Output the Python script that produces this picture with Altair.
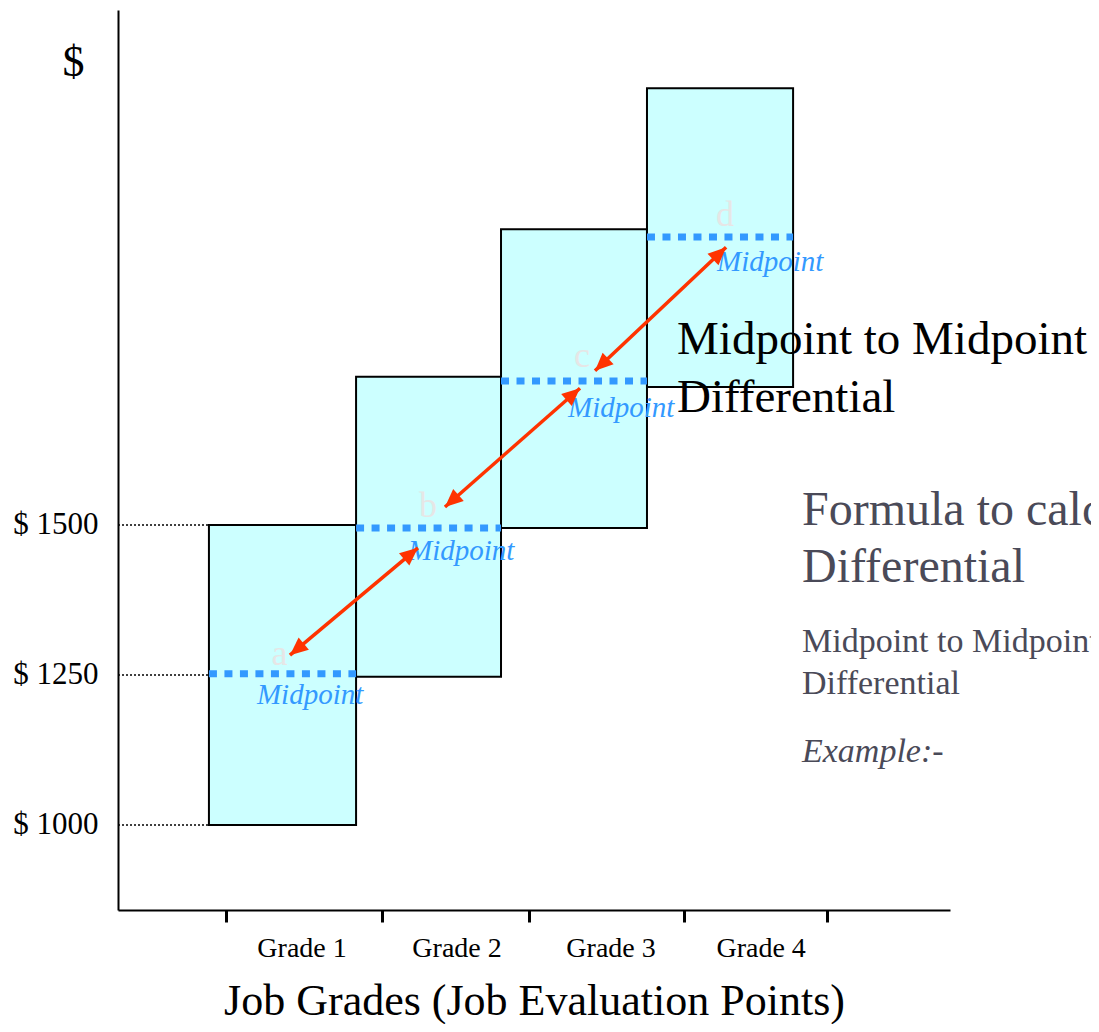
import math
import altair as alt
import pandas as pd

# ---------------- data ----------------
grades = ["Grade 1", "Grade 2", "Grade 3", "Grade 4"]
box_x0 = [0.623, 1.631, 2.624, 3.624]
box_x1 = [1.631, 2.624, 3.624, 4.625]
box_low = [1000, 1247, 1495, 1730]
box_high = [1500, 1747, 1993, 2228]
box_mid = [1252, 1495, 1740, 1980]

letters = ["a", "b", "c", "d"]
letter_x = [1.107, 2.124, 3.178, 4.158]
letter_y = [1266, 1513, 1763, 1998]

mid_label_x = [0.952, 1.987, 3.083, 4.104]
mid_label_y = [1202, 1442, 1680, 1923]

arrow_x_start = [1.178, 2.240, 3.268]
arrow_y_start = [1283, 1530, 1757]
arrow_x_end = [2.055, 3.165, 4.166]
arrow_y_end = [1462, 1728, 1963]

y_tick_values = [1000, 1250, 1500]
x_tick_values = [0.740, 1.809, 2.816, 3.878, 4.858]
grade_label_x = [1.261, 2.323, 3.378, 4.406]
grade_label_y = 780

black_lines = ["Midpoint to Midpoint", "Differential"]
black_x = 3.830
black_y = [1785, 1688]

gray_lines = ["Formula to calculate", "Differential", "Midpoint to Midpoint", "Differential", "Example:-"]
gray_size = [48, 48, 34, 34, 34]
gray_style = ["normal", "normal", "normal", "normal", "italic"]
gray_x = 4.686
gray_y = [1500, 1405, 1288, 1218, 1105]

# ---------------- scales / layout ----------------
X_DOMAIN = [0, 5.7]
Y_DOMAIN = [858.33, 2358.33]
W, H = 832, 900
SERIF = "Liberation Serif"

xs = alt.Scale(domain=X_DOMAIN, nice=False, zero=False)
ys = alt.Scale(domain=Y_DOMAIN, nice=False, zero=False)

x_axis = alt.Axis(
    values=x_tick_values, labels=False, grid=False,
    ticks=True, tickSize=12, tickWidth=3, tickColor="black",
    domainColor="black", domainWidth=2,
    title="Job Grades (Job Evaluation Points)", titleFont=SERIF, titleFontSize=44,
    titleFontWeight="normal", titleColor="black", titleY=104, titleBaseline="alphabetic",
)
y_axis = alt.Axis(
    values=y_tick_values, labelExpr="'$ ' + datum.value", ticks=False, grid=False,
    labelFont=SERIF, labelFontSize=31, labelColor="black", labelPadding=20,
    domainColor="black", domainWidth=2,
    title="$", titleAngle=0, titleX=-45, titleY=65, titleAlign="center",
    titleBaseline="alphabetic", titleFont=SERIF, titleFontSize=44,
    titleFontWeight="normal", titleColor="black",
)


def X(f):
    return alt.X(f"{f}:Q", scale=xs, axis=x_axis)


def Y(f):
    return alt.Y(f"{f}:Q", scale=ys, axis=y_axis)


boxes = pd.DataFrame({"grade": grades, "x": box_x0, "x1": box_x1,
                      "y": box_low, "y1": box_high, "mid": box_mid})

rects = alt.Chart(boxes).mark_rect(fill="#ccffff", stroke="black", strokeWidth=2).encode(
    x=X("x"), x2=alt.X2("x1"), y=Y("y"), y2=alt.Y2("y1"))

mid_lines = alt.Chart(boxes).mark_rule(color="#3399ff", strokeWidth=7, strokeDash=[8, 7.5]).encode(
    x=X("x"), x2=alt.X2("x1"), y=Y("mid"))

guides = pd.DataFrame({"x": [0] * 3, "x1": [box_x0[0]] * 3, "y": y_tick_values})
guide_lines = alt.Chart(guides).mark_rule(color="black", strokeWidth=1.5, strokeDash=[2, 2]).encode(
    x=X("x"), x2=alt.X2("x1"), y=Y("y"))

letters_df = pd.DataFrame({"t": letters, "x": letter_x, "y": letter_y})
letter_text = alt.Chart(letters_df).mark_text(
    font=SERIF, fontSize=36, color="#e6e6e6", align="center", baseline="alphabetic"
).encode(x=X("x"), y=Y("y"), text="t:N")

mid_df = pd.DataFrame({"t": ["Midpoint"] * 4, "x": mid_label_x, "y": mid_label_y})
mid_text = alt.Chart(mid_df).mark_text(
    font=SERIF, fontSize=29, fontStyle="italic", color="#3399ff", align="left", baseline="alphabetic"
).encode(x=X("x"), y=Y("y"), text="t:N")

arrows = pd.DataFrame({"x": arrow_x_start, "y": arrow_y_start, "x1": arrow_x_end, "y1": arrow_y_end})
arrow_lines = alt.Chart(arrows).mark_rule(color="#ff3300", strokeWidth=3.5).encode(
    x=X("x"), y=Y("y"), x2=alt.X2("x1"), y2=alt.Y2("y1"))

px_x = W / (X_DOMAIN[1] - X_DOMAIN[0])
px_y = H / (Y_DOMAIN[1] - Y_DOMAIN[0])
head_rows = []
for xs0, ys0, xe, ye in zip(arrow_x_start, arrow_y_start, arrow_x_end, arrow_y_end):
    dx = (xe - xs0) * px_x
    dy = -(ye - ys0) * px_y
    ang = math.degrees(math.atan2(dx, -dy)) % 360
    head_rows.append({"x": xe, "y": ye, "angle": ang})
    head_rows.append({"x": xs0, "y": ys0, "angle": (ang + 180) % 360})
heads = pd.DataFrame(head_rows)
arrow_heads = alt.Chart(heads).mark_point(
    shape="M0,0L-0.4,0.9L0.4,0.9Z", filled=True, size=1600, color="#ff3300", opacity=1, strokeWidth=0
).encode(x=X("x"), y=Y("y"), angle=alt.Angle("angle:Q", scale=None))

grade_df = pd.DataFrame({"t": grades, "x": grade_label_x, "y": [grade_label_y] * 4})
grade_text = alt.Chart(grade_df).mark_text(
    font=SERIF, fontSize=28, color="black", align="center", baseline="alphabetic"
).encode(x=X("x"), y=Y("y"), text="t:N")

black_df = pd.DataFrame({"t": black_lines, "x": [black_x] * 2, "y": black_y})
black_text = alt.Chart(black_df).mark_text(
    font=SERIF, fontSize=47, color="black", align="left", baseline="alphabetic"
).encode(x=X("x"), y=Y("y"), text="t:N")

gray_df = pd.DataFrame({"t": gray_lines, "x": [gray_x] * 5, "y": gray_y,
                        "s": gray_size, "st": gray_style})
gray_parts = []
for size in sorted(set(gray_size)):
    for style in sorted(set(gray_style)):
        sub = gray_df[(gray_df.s == size) & (gray_df.st == style)]
        if len(sub) == 0:
            continue
        gray_parts.append(alt.Chart(sub).mark_text(
            font=SERIF, fontSize=size, fontStyle=style, color="#4a4a58",
            align="left", baseline="alphabetic"
        ).encode(x=X("x"), y=Y("y"), text="t:N"))

chart = alt.layer(
    rects, guide_lines, mid_lines, letter_text, mid_text, arrow_lines, arrow_heads,
    grade_text, black_text, *gray_parts
).properties(
    width=W, height=H,
    autosize=alt.AutoSizeParams(type="none"),
    padding={"left": 110, "top": 2, "right": 141, "bottom": 114},
    background="white",
).configure_view(stroke=None)

chart.save("out.html", embed_options={"renderer": "svg", "actions": False})
